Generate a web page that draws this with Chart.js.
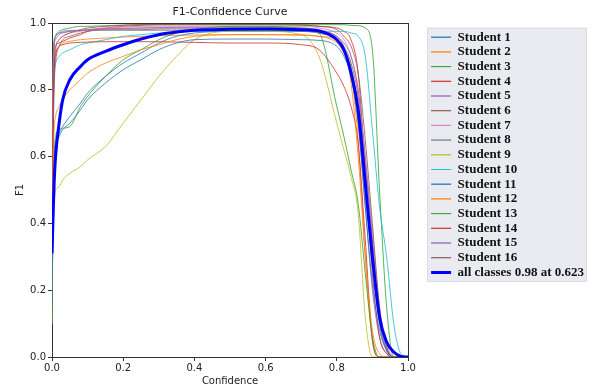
<!DOCTYPE html>
<html>
<head>
<meta charset="utf-8">
<script src="https://cdn.jsdelivr.net/npm/chart.js@4/dist/chart.umd.min.js"></script>
<style>
  html, body { margin: 0; padding: 0; background: #fff; }
  #wrap { width: 594px; height: 387px; }
</style>
</head>
<body>
<div id="wrap"><canvas id="f1chart" width="594" height="387"></canvas></div>
<script>
// confidence grid (x) and the F1 value of every curve at each grid point
const confidence = [0, 0.003, 0.006, 0.01, 0.02, 0.03, 0.05, 0.08, 0.1, 0.15, 0.2, 0.25, 0.3, 0.35, 0.4, 0.5, 0.6, 0.7, 0.75, 0.8, 0.82, 0.84, 0.86, 0.88, 0.9, 0.92, 0.94, 0.96, 0.98, 1.0];

const student1  = [0.15, 0.4, 0.55, 0.62, 0.66, 0.68, 0.70, 0.74, 0.77, 0.82, 0.86, 0.89, 0.92, 0.94, 0.95, 0.952, 0.952, 0.95, 0.948, 0.93, 0.9, 0.84, 0.7, 0.45, 0.22, 0.08, 0.02, 0, 0, 0];
const student2  = [0.2, 0.55, 0.68, 0.72, 0.75, 0.77, 0.8, 0.83, 0.85, 0.88, 0.9, 0.92, 0.935, 0.95, 0.96, 0.965, 0.965, 0.965, 0.96, 0.95, 0.92, 0.82, 0.6, 0.3, 0.08, 0.01, 0, 0, 0, 0];
const student3  = [0.12, 0.45, 0.6, 0.66, 0.68, 0.685, 0.69, 0.75, 0.78, 0.84, 0.89, 0.92, 0.95, 0.97, 0.98, 0.99, 0.99, 0.985, 0.97, 0.75, 0.66, 0.56, 0.46, 0.25, 0.06, 0, 0, 0, 0, 0];
const student4  = [0.15, 0.7, 0.85, 0.9, 0.93, 0.935, 0.94, 0.942, 0.943, 0.944, 0.944, 0.944, 0.944, 0.943, 0.942, 0.94, 0.94, 0.935, 0.92, 0.85, 0.81, 0.75, 0.64, 0.35, 0.05, 0, 0, 0, 0, 0];
const student5  = [0.2, 0.8, 0.93, 0.95, 0.965, 0.97, 0.975, 0.978, 0.98, 0.982, 0.984, 0.985, 0.986, 0.987, 0.987, 0.987, 0.987, 0.985, 0.98, 0.96, 0.94, 0.9, 0.8, 0.6, 0.35, 0.12, 0.02, 0, 0, 0];
const student6  = [0.1, 0.65, 0.85, 0.92, 0.95, 0.96, 0.97, 0.98, 0.985, 0.99, 0.993, 0.995, 0.995, 0.995, 0.995, 0.995, 0.995, 0.993, 0.99, 0.98, 0.96, 0.93, 0.85, 0.65, 0.4, 0.15, 0.03, 0, 0, 0];
const student7  = [0.25, 0.75, 0.9, 0.93, 0.95, 0.96, 0.97, 0.975, 0.98, 0.985, 0.988, 0.99, 0.99, 0.99, 0.99, 0.99, 0.99, 0.99, 0.985, 0.97, 0.95, 0.9, 0.8, 0.6, 0.38, 0.15, 0.04, 0, 0, 0];
const student8  = [0.3, 0.85, 0.94, 0.96, 0.97, 0.975, 0.978, 0.978, 0.978, 0.978, 0.978, 0.978, 0.978, 0.978, 0.978, 0.978, 0.978, 0.975, 0.97, 0.95, 0.92, 0.87, 0.75, 0.55, 0.3, 0.1, 0.02, 0, 0, 0];
const student9  = [0.1, 0.4, 0.47, 0.5, 0.51, 0.53, 0.55, 0.57, 0.59, 0.63, 0.7, 0.77, 0.84, 0.9, 0.95, 0.975, 0.975, 0.965, 0.9, 0.7, 0.62, 0.54, 0.43, 0.12, 0, 0, 0, 0, 0, 0];
const student10 = [0.2, 0.7, 0.85, 0.88, 0.9, 0.91, 0.92, 0.935, 0.94, 0.95, 0.96, 0.965, 0.97, 0.972, 0.975, 0.975, 0.975, 0.975, 0.975, 0.975, 0.975, 0.97, 0.96, 0.9, 0.68, 0.45, 0.3, 0.1, 0.01, 0];
const student11 = [0.1, 0.45, 0.6, 0.64, 0.67, 0.69, 0.72, 0.76, 0.79, 0.84, 0.88, 0.91, 0.94, 0.96, 0.97, 0.975, 0.975, 0.975, 0.97, 0.95, 0.92, 0.86, 0.72, 0.5, 0.28, 0.1, 0.02, 0, 0, 0];
const student12 = [0.15, 0.7, 0.87, 0.91, 0.93, 0.94, 0.945, 0.95, 0.952, 0.955, 0.958, 0.96, 0.962, 0.963, 0.964, 0.965, 0.965, 0.963, 0.96, 0.94, 0.91, 0.85, 0.65, 0.3, 0.05, 0, 0, 0, 0, 0];
const student13 = [0.2, 0.8, 0.93, 0.96, 0.975, 0.98, 0.985, 0.99, 0.99, 0.992, 0.994, 0.995, 0.995, 0.995, 0.995, 0.995, 0.995, 0.995, 0.995, 0.995, 0.995, 0.993, 0.992, 0.985, 0.92, 0.5, 0.15, 0, 0, 0];
const student14 = [0.3, 0.8, 0.9, 0.93, 0.94, 0.945, 0.955, 0.965, 0.975, 0.985, 0.99, 0.993, 0.995, 0.995, 0.995, 0.995, 0.995, 0.995, 0.99, 0.985, 0.975, 0.95, 0.85, 0.55, 0.25, 0.06, 0.01, 0, 0, 0];
const student15 = [0.25, 0.85, 0.95, 0.96, 0.97, 0.972, 0.975, 0.977, 0.98, 0.982, 0.984, 0.985, 0.985, 0.985, 0.985, 0.985, 0.985, 0.982, 0.975, 0.95, 0.92, 0.85, 0.7, 0.45, 0.2, 0.06, 0.01, 0, 0, 0];
const student16 = [0.1, 0.6, 0.8, 0.88, 0.93, 0.95, 0.96, 0.97, 0.975, 0.98, 0.98, 0.98, 0.982, 0.982, 0.982, 0.982, 0.982, 0.98, 0.975, 0.96, 0.93, 0.88, 0.78, 0.58, 0.35, 0.12, 0.03, 0, 0, 0];
const allClasses = [0.31, 0.42, 0.52, 0.6, 0.7, 0.77, 0.83, 0.87, 0.89, 0.915, 0.935, 0.952, 0.965, 0.973, 0.978, 0.981, 0.982, 0.98, 0.976, 0.95, 0.92, 0.85, 0.74, 0.52, 0.3, 0.12, 0.045, 0.015, 0.002, 0];

const studentCurves = [student1, student2, student3, student4, student5, student6, student7, student8,
                       student9, student10, student11, student12, student13, student14, student15, student16];
const studentNames = studentCurves.map((_, i) => 'Student ' + (i + 1));
const allClassesLabel = 'all classes 0.98 at 0.623';

const xTickLabels = ['0.0', '0.2', '0.4', '0.6', '0.8', '1.0'];
const yTickLabels = ['0.0', '0.2', '0.4', '0.6', '0.8', '1.0'];

// matplotlib tab10 cycle, a bit washed out like the picture
const palette = ['rgba(31,119,180,0.8)', 'rgba(255,127,14,0.8)', 'rgba(44,160,44,0.8)', 'rgba(214,39,40,0.8)',
                 'rgba(148,103,189,0.8)', 'rgba(140,86,75,0.8)', 'rgba(227,119,194,0.8)', 'rgba(127,127,127,0.8)',
                 'rgba(188,189,34,0.8)', 'rgba(23,190,207,0.8)'];

const toPoints = ys => ys.map((y, i) => ({ x: confidence[i], y: y }));

const datasets = studentCurves.map((curve, i) => ({
    label: studentNames[i],
    data: toPoints(curve),
    borderColor: palette[i % palette.length],
    backgroundColor: palette[i % palette.length],
    borderWidth: 1,
    pointRadius: 0,
    cubicInterpolationMode: 'monotone'
}));
datasets.push({
    label: allClassesLabel,
    data: toPoints(allClasses),
    borderColor: '#0000ff',
    backgroundColor: '#0000ff',
    borderWidth: 3,
    pointRadius: 0,
    cubicInterpolationMode: 'monotone',
    order: -1
});

// grey box behind the legend
const legendBox = {
    id: 'legendBox',
    beforeDraw(chart) {
        const lg = chart.legend;
        if (!lg || !lg.legendHitBoxes.length) return;
        const first = lg.legendHitBoxes[0];
        const last = lg.legendHitBoxes[lg.legendHitBoxes.length - 1];
        let maxW = 0;
        lg.legendHitBoxes.forEach(b => { maxW = Math.max(maxW, b.width); });
        const ctx = chart.ctx;
        const x0 = first.left - 4;
        const y0 = first.top - 3;
        const w = maxW + 7;
        const h = last.top + last.height - first.top + 6;
        ctx.save();
        ctx.fillStyle = '#e9ebf0';
        ctx.strokeStyle = '#d9dce2';
        ctx.lineWidth = 1;
        ctx.fillRect(x0, y0, w, h);
        ctx.strokeRect(x0 + 0.5, y0 + 0.5, w - 1, h - 1);
        ctx.restore();
    }
};

const axisFont = { family: 'DejaVu Sans', size: 10 };
const frameColor = '#333333';
const plotRight = 408;

new Chart(document.getElementById('f1chart'), {
    type: 'line',
    data: { datasets: datasets },
    plugins: [legendBox],
    options: {
        responsive: false,
        animation: false,
        layout: { padding: { right: 0 } },
        plugins: {
            title: { display: false },
            tooltip: { enabled: false },
            legend: {
                position: 'right',
                align: 'start',
                maxWidth: 260,
                title: { display: true, text: ' ', font: { size: 1, lineHeight: 1 }, padding: { top: 0, bottom: 28 } },
                labels: {
                    boxWidth: 20,
                    boxHeight: 0,
                    padding: 1.7,
                    color: '#111',
                    font: { family: 'Liberation Serif', size: 13, weight: 'bold' },
                    sort: (a, b) => a.datasetIndex - b.datasetIndex
                }
            }
        },
        scales: {
            x: {
                type: 'linear',
                position: 'bottom',
                min: 0, max: 1,
                afterFit: s => { s.height = 30; },
                ticks: {
                    stepSize: 0.2,
                    color: '#222',
                    font: axisFont,
                    padding: 1,
                    maxRotation: 0,
                    callback: v => xTickLabels[Math.round(v / 0.2)]
                },
                grid: { drawOnChartArea: false, drawTicks: true, tickLength: 4, color: frameColor },
                border: { display: true, color: frameColor, width: 1 },
                title: { display: true, text: 'Confidence', color: '#222', font: axisFont, padding: { top: 1, bottom: 0 } }
            },
            xTop: {
                type: 'linear',
                position: 'top',
                min: 0, max: 1,
                afterFit: s => { s.height = 23; },
                ticks: { display: false },
                grid: { display: false, drawTicks: false },
                border: { display: true, color: frameColor, width: 1 },
                title: { display: true, text: 'F1-Confidence Curve', color: '#222', font: { family: 'DejaVu Sans', size: 11 }, padding: { top: 6, bottom: 4 } }
            },
            y: {
                type: 'linear',
                position: 'left',
                min: 0, max: 1,
                afterFit: s => { s.width = 52; },
                ticks: {
                    stepSize: 0.2,
                    color: '#222',
                    font: axisFont,
                    padding: 2,
                    callback: v => yTickLabels[Math.round(v / 0.2)]
                },
                grid: { drawOnChartArea: false, drawTicks: true, tickLength: 4, color: frameColor },
                border: { display: true, color: frameColor, width: 1 },
                title: { display: true, text: 'F1', color: '#222', font: axisFont, padding: { top: 14, bottom: 0 } }
            },
            yRight: {
                type: 'linear',
                position: 'right',
                min: 0, max: 1,
                afterFit: s => {
                    const lw = s.chart.legend ? s.chart.legend.width : 0;
                    s.width = Math.max(2, s.chart.width - lw - plotRight);
                },
                ticks: { display: false },
                grid: { display: false, drawTicks: false },
                border: { display: true, color: frameColor, width: 1 }
            }
        }
    }
});
</script>
</body>
</html>
